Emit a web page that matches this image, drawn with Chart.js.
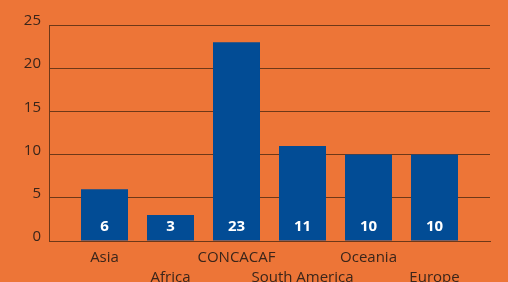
<!DOCTYPE html>
<html>
<head>
<meta charset="utf-8">
<script src="https://cdn.jsdelivr.net/npm/chart.js@4"></script>
<style>
  html, body { margin: 0; padding: 0; background: #ED7537; }
  #wrap { width: 508px; height: 282px; }
</style>
</head>
<body>
<div id="wrap"><canvas id="myChart"></canvas></div>
<script>
// confederations and their counts
const regions = ['Asia', 'Africa', 'CONCACAF', 'South America', 'Oceania', 'Europe'];
const counts = [6, 3, 23, 11, 10, 10];
const yTicks = [0, 5, 10, 15, 20, 25];

const textColor = '#3a251a';
const gridColor = '#6e3818';
const barColor = '#024c95';

// white numbers at the foot of each bar
const valueLabels = {
    id: 'valueLabels',
    afterDatasetsDraw(chart) {
        const ctx = chart.ctx;
        const meta = chart.getDatasetMeta(0);
        ctx.save();
        ctx.fillStyle = '#ffffff';
        ctx.font = 'bold 15px "Open Sans"';
        ctx.textAlign = 'center';
        ctx.textBaseline = 'middle';
        meta.data.forEach((bar, i) => {
            ctx.fillText(String(counts[i]), bar.x, bar.base - 14);
        });
        ctx.restore();
    }
};

const ctx = document.getElementById('myChart').getContext('2d');
new Chart(ctx, {
    type: 'bar',
    data: {
        datasets: [{
            data: counts.map((v, i) => ({ x: i, y: v })),
            backgroundColor: barColor,
            borderWidth: 0,
            barPercentage: 0.712,
            categoryPercentage: 1,
        }],
    },
    options: {
        responsive: true,
        maintainAspectRatio: false,
        animation: false,
        layout: { padding: { left: 0, right: 18, top: 25, bottom: 0 } },
        plugins: { legend: { display: false }, tooltip: { enabled: false } },
        scales: {
            x: {
                type: 'linear',
                offset: false,
                min: -0.841,
                max: regions.length - 1 + 0.841,
                afterBuildTicks: (scale) => {
                    scale.ticks = regions.map((_, i) => ({ value: i }));
                },
                afterFit: (scale) => { scale.height = 41; },
                grid: { display: false, drawTicks: false, offset: false },
                border: { display: true, color: gridColor, width: 1 },
                ticks: {
                    autoSkip: false,
                    maxRotation: 0,
                    padding: 7,
                    color: textColor,
                    font: { family: '"Open Sans"', size: 15, lineHeight: 1.33 },
                    callback: (v) => {
                        const i = Math.round(v);
                        return i % 2 === 0 ? [regions[i]] : ['', regions[i]];
                    },
                },
            },
            y: {
                min: 0,
                max: 25,
                afterBuildTicks: (scale) => {
                    scale.ticks = yTicks.map(v => ({ value: v }));
                },
                afterFit: (scale) => { scale.width = 49; },
                grid: { color: gridColor, lineWidth: 1, drawTicks: false },
                border: { display: true, color: gridColor, width: 1 },
                ticks: {
                    padding: 8,
                    labelOffset: -4,
                    color: textColor,
                    font: { family: '"Open Sans"', size: 15 },
                },
            },
        },
    },
    plugins: [valueLabels],
});
</script>
</body>
</html>
